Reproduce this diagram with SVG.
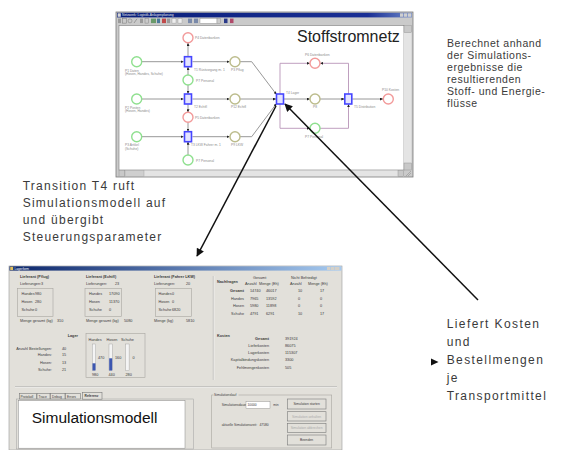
<svg xmlns="http://www.w3.org/2000/svg" width="573" height="450" viewBox="0 0 573 450">
<defs>
<style>
.ann{font-family:"Liberation Sans",Arial,sans-serif;fill:#3a3a3a}
.t{font-family:"Liberation Sans",Arial,sans-serif;font-size:3.8px;fill:#3a3a3a}
.s{font-size:3.3px}
.b{font-weight:bold}
.r{text-anchor:end}
.lbl{font-family:"Liberation Sans",Arial,sans-serif;font-size:3.3px;fill:#8a8a8a}
.pl{fill:#fff;stroke-width:1.4}
.pg{stroke:#8fe08f}
.pr{stroke:#f29a9a}
.po{stroke:#bcbc8c}
.tr{fill:#e4e4ff;stroke:#4646ff;stroke-width:1.6}
.arc{fill:none;stroke:#8c8c8c;stroke-width:0.9}
.pur{fill:none;stroke:#b894b8;stroke-width:0.9}
.big{fill:none;stroke:#111;stroke-width:1.5}
.box{fill:none;stroke:#a8a6a0;stroke-width:0.6}
.btn{fill:#e2e0da;stroke:#7a7a7a;stroke-width:0.6}
.ico{fill:#9a9a9a}
</style>
<marker id="ah" viewBox="0 0 10 10" refX="9" refY="5" markerWidth="11" markerHeight="8" markerUnits="userSpaceOnUse" orient="auto"><path d="M0,0 L10,5 L0,10 z" fill="#111"/></marker>
<marker id="sa" viewBox="0 0 10 10" refX="10" refY="5" markerWidth="3" markerHeight="3" markerUnits="userSpaceOnUse" orient="auto"><path d="M0,0 L10,5 L0,10 z" fill="#222"/></marker>
<linearGradient id="tb" x1="0" y1="0" x2="1" y2="0"><stop offset="0" stop-color="#0a1f7a"/><stop offset="0.85" stop-color="#1a2f95"/><stop offset="1" stop-color="#6c86c8"/></linearGradient>
<linearGradient id="tb2" x1="0" y1="0" x2="1" y2="0"><stop offset="0" stop-color="#0a246a"/><stop offset="1" stop-color="#a6caf0"/></linearGradient>
</defs>
<rect width="573" height="450" fill="#fff"/>

<!-- Top screenshot: Stoffstromnetz -->
<g id="top-window">
<rect x="116" y="12" width="297" height="165" fill="#cacaca" stroke="#7a7a7a" stroke-width="0.8"/>
<rect x="117" y="12.8" width="295" height="4.6" fill="url(#tb)"/>
<rect x="117.6" y="13.3" width="3.2" height="3.5" fill="#d8d8d8"/>
<text x="122" y="16.3" font-family="Liberation Sans, Arial, sans-serif" font-size="3.3" fill="#e8e8e8">Netzwerk: Logistik-Anlagenplanung</text>
<rect x="400" y="13.3" width="3.4" height="3.5" fill="#cfcfcf"/>
<rect x="404" y="13.3" width="3.4" height="3.5" fill="#cfcfcf"/>
<rect x="408" y="13.3" width="3.4" height="3.5" fill="#cfcfcf"/>
<g id="toolbar">
<rect x="118" y="18.6" width="3" height="4.5" class="ico"/>
<rect x="122.5" y="18.6" width="4" height="4.5" fill="none" stroke="#777" stroke-width="0.5"/>
<circle cx="130" cy="20.9" r="2" fill="none" stroke="#777" stroke-width="0.5"/>
<path d="M134,23 L137,18.8" stroke="#777" stroke-width="0.6"/>
<rect x="140" y="18.6" width="3" height="4.5" class="ico"/>
<rect x="145" y="18.6" width="3.5" height="4.5" fill="none" stroke="#888" stroke-width="0.5"/>
<rect x="151" y="18.6" width="5" height="4.5" fill="#6a9a6a"/>
<rect x="157" y="18.6" width="3" height="4.5" fill="#4a7a9a"/>
<rect x="162" y="18.6" width="4" height="4.5" fill="#c04a4a"/>
<rect x="167" y="18.6" width="3" height="4.5" class="ico"/>
<rect x="172" y="18.6" width="4" height="4.5" fill="#eee" stroke="#999" stroke-width="0.4"/>
<rect x="178" y="18.6" width="4" height="4.5" fill="#eee" stroke="#999" stroke-width="0.4"/>
<rect x="188" y="18.6" width="4" height="4.5" fill="#7a8aaa"/>
<rect x="194" y="18.6" width="4" height="4.5" fill="#7a8aaa"/>
<rect x="200" y="18.5" width="17" height="4.8" fill="#fff" stroke="#888" stroke-width="0.4"/>
<rect x="217" y="18.5" width="3.5" height="4.8" fill="#ccc" stroke="#888" stroke-width="0.4"/>
<rect x="224" y="18.6" width="3.5" height="4.5" fill="#2a3a8a"/>
<rect x="230" y="18.6" width="3.5" height="4.5" fill="#b04a6a"/>
</g>
<rect x="119" y="25.5" width="285" height="144.5" fill="#fff" stroke="#7a7a7a" stroke-width="0.6"/>
<rect x="404" y="25.5" width="7.5" height="144.5" fill="#e4e4e4"/>
<rect x="404" y="25.5" width="7.5" height="7" fill="#c8c8c8" stroke="#888" stroke-width="0.4"/>
<rect x="404" y="163" width="7.5" height="7" fill="#c8c8c8" stroke="#888" stroke-width="0.4"/>
<rect x="119" y="170.5" width="285" height="5.8" fill="#e4e4e4"/>
<rect x="119" y="170.5" width="5.8" height="5.8" fill="#c8c8c8" stroke="#888" stroke-width="0.4"/>
<rect x="125" y="170.5" width="19" height="5.8" fill="#cfcfcf" stroke="#999" stroke-width="0.4"/>
<rect x="398" y="170.5" width="5.8" height="5.8" fill="#c8c8c8" stroke="#888" stroke-width="0.4"/>
<path d="M406,176 L411,171 M408,176 L411,173" stroke="#888" stroke-width="0.5"/>
<text x="297" y="42" font-family="Liberation Sans, Arial, sans-serif" font-size="16" fill="#222">Stoffstromnetz</text>
</g>

<!-- Petri net arcs -->
<g id="arcs">
<path class="arc" d="M142,61.7 H183.5" marker-end="url(#sa)"/>
<path class="arc" d="M192.5,61.7 H229.5" marker-end="url(#sa)"/>
<path class="arc" d="M142,99 H183.5" marker-end="url(#sa)"/>
<path class="arc" d="M192.5,99 H229.5" marker-end="url(#sa)"/>
<path class="arc" d="M142,136.7 H183.5" marker-end="url(#sa)"/>
<path class="arc" d="M192.5,136.7 H229.5" marker-end="url(#sa)"/>
<path class="arc" d="M188,56.5 V43" marker-end="url(#sa)"/>
<path class="arc" d="M188,75 V67" marker-end="url(#sa)"/>
<path class="arc" d="M188,85 V93.8" marker-end="url(#sa)"/>
<path class="arc" d="M188,104.2 V112.3" marker-end="url(#sa)"/>
<path class="arc" d="M188,122.3 V131.5" marker-end="url(#sa)"/>
<path class="arc" d="M188,155 V141.8" marker-end="url(#sa)"/>
<path class="arc" d="M240,61.7 H251.7 L276.5,94.5" marker-end="url(#sa)"/>
<path class="arc" d="M240,99 H276" marker-end="url(#sa)"/>
<path class="arc" d="M240,136.7 H251.7 L276.5,103.5" marker-end="url(#sa)"/>
<path class="arc" d="M284,99 H309.8" marker-end="url(#sa)"/>
<path class="arc" d="M320,99 H344.3" marker-end="url(#sa)"/>
<path class="arc" d="M352.3,99 H383" marker-end="url(#sa)"/>
<path class="pur" d="M280,94 V63.3 H309.8" marker-end="url(#sa)"/>
<path class="pur" d="M348.5,94 V63.3 H320.2" marker-end="url(#sa)"/>
<path class="pur" d="M280,104 V128.3 H309.8" marker-end="url(#sa)"/>
<path class="pur" d="M320,128.3 H348.5 V104.2" marker-end="url(#sa)"/>
</g>

<!-- Petri net nodes -->
<g id="p-daten"><circle class="pl pg" cx="136.7" cy="61.7" r="5"/><text class="lbl" x="125" y="71.5">P1 Daten</text><text class="lbl" x="125" y="75">(Hosen, Handes, Schuhe)</text></g>
<g id="p-posten"><circle class="pl pg" cx="136.7" cy="99" r="5"/><text class="lbl" x="125" y="108.5">P2 Posten</text><text class="lbl" x="125" y="112">(Hosen, Handes)</text></g>
<g id="p-artikel"><circle class="pl pg" cx="136.7" cy="136.7" r="5"/><text class="lbl" x="125" y="146">P3 Artikel</text><text class="lbl" x="125" y="149.5">(Schuhe)</text></g>
<g id="p-db1"><circle class="pl pr" cx="188" cy="37.7" r="5"/><text class="lbl" x="195" y="39">P4 Datenbanken</text></g>
<g id="p-pers1"><circle class="pl pg" cx="188" cy="80" r="5"/><text class="lbl" x="196" y="81.5">P7 Personal</text></g>
<g id="p-db2"><circle class="pl pr" cx="188" cy="117.3" r="5"/><text class="lbl" x="195" y="118.6">P5 Datenbanken</text></g>
<g id="p-pers2"><circle class="pl pg" cx="188" cy="160" r="5"/><text class="lbl" x="196" y="161.5">P7 Personal</text></g>
<g id="t1"><rect class="tr" x="184.5" y="56.7" width="7" height="10"/><text class="lbl" x="194" y="70.5">T1 Rüstvorgang m. 1</text></g>
<g id="t2"><rect class="tr" x="184.5" y="94" width="7" height="10"/><text class="lbl" x="194" y="108">T2 Echtfl</text></g>
<g id="t3"><rect class="tr" x="184.5" y="131.7" width="7" height="10"/><text class="lbl" x="191" y="146">T3 LKW Fahrer m. 1</text></g>
<g id="p-pflug"><circle class="pl po" cx="235" cy="61.7" r="5"/><text class="lbl" x="231" y="70.5">P3 Pflug</text></g>
<g id="p-echtfl"><circle class="pl po" cx="235" cy="99" r="5"/><text class="lbl" x="231" y="108">P12 Echtfl</text></g>
<g id="p-lkw"><circle class="pl po" cx="235" cy="136.7" r="5"/><text class="lbl" x="231" y="146">P9 LKW</text></g>
<g id="t4"><rect class="tr" x="276.5" y="94" width="7" height="10"/><text class="lbl" x="286" y="93.5">T4 Lager</text></g>
<g id="p-db3"><circle class="pl pr" cx="315" cy="63.3" r="5"/><text class="lbl" x="305" y="55.5">P6 Datenbanken</text></g>
<g id="p-p8"><circle class="pl po" cx="315" cy="99" r="5"/><text class="lbl" x="313" y="108">P8</text></g>
<g id="p-pers3"><circle class="pl pg" cx="315" cy="128.3" r="5"/><text class="lbl" x="305" y="137.5">P7 Personal</text></g>
<g id="t5"><rect class="tr" x="344.8" y="94" width="7" height="10"/><text class="lbl" x="354" y="108">T5 Distribution</text></g>
<g id="p-kosten"><circle class="pl pr" cx="388.3" cy="99" r="5"/><text class="lbl" x="382" y="90.5">P10 Kosten</text></g>

<!-- Lower screenshot: Simulationsmodell -->
<g id="bottom-window">
<rect x="9" y="266" width="333" height="184" fill="#e2e0da" stroke="#9a9a9a" stroke-width="0.6"/>
<rect x="9.5" y="266.3" width="332" height="4.3" fill="url(#tb2)"/>
<rect x="10.2" y="266.8" width="3" height="3.3" fill="#e0c060"/>
<text x="14.5" y="269.6" font-family="Liberation Sans, Arial, sans-serif" font-size="3.2" fill="#fff">Lagerform</text>
<rect x="327" y="267" width="3.5" height="3" fill="#d4d0c8"/>
<rect x="331" y="267" width="3.5" height="3" fill="#d4d0c8"/>
<rect x="335" y="267" width="4.5" height="3" fill="#d4d0c8"/>

<text class="t b" x="20" y="278">Lieferant (Pflug)</text>
<text class="t" x="20" y="285">Lieferungen:</text><text class="t" x="41" y="285">3</text>
<rect class="box" x="17.5" y="288.5" width="35.5" height="28"/>
<text class="t" x="21.5" y="295">Handes</text><text class="t" x="35" y="295">980</text>
<text class="t" x="21.5" y="303">Hosen</text><text class="t" x="35" y="303">280</text>
<text class="t" x="21.5" y="311">Schuhe</text><text class="t" x="35" y="311">0</text>
<text class="t" x="20" y="322">Menge gesamt (kg)</text><text class="t" x="57" y="322">310</text>

<text class="t b" x="86" y="278">Lieferant (Echtfl)</text>
<text class="t" x="86" y="285">Lieferungen:</text><text class="t" x="115" y="285">23</text>
<rect class="box" x="85" y="288.5" width="36.5" height="28"/>
<text class="t" x="89" y="295">Handes</text><text class="t" x="109" y="295">17090</text>
<text class="t" x="89" y="303">Hosen</text><text class="t" x="109" y="303">11370</text>
<text class="t" x="89" y="311">Schuhe</text><text class="t" x="109" y="311">0</text>
<text class="t" x="86" y="322">Menge gesamt (kg)</text><text class="t" x="124" y="322">5080</text>

<text class="t b" x="154" y="278">Lieferant (Fahrer LKW)</text>
<text class="t" x="154" y="285">Lieferungen:</text><text class="t" x="186" y="285">20</text>
<rect class="box" x="155.5" y="288.5" width="36" height="28"/>
<text class="t" x="158.5" y="295">Handes</text><text class="t" x="172" y="295">0</text>
<text class="t" x="158.5" y="303">Hosen</text><text class="t" x="172" y="303">0</text>
<text class="t" x="158.5" y="311">Schuhe</text><text class="t" x="172" y="311">6820</text>
<text class="t" x="154" y="322">Menge (kg)</text><text class="t" x="186" y="322">5810</text>

<path d="M213.3,276 V380" stroke="#a0a0a0" stroke-width="0.6"/>
<path d="M214,276 V380" stroke="#fff" stroke-width="0.5"/>
<text class="t b" x="217" y="283">Nachfragen</text>
<text class="t" x="253" y="279">Gesamt</text>
<text class="t" x="245" y="284.5">Anzahl</text><text class="t" x="259" y="284.5">Menge (Eh)</text>
<text class="t" x="291" y="279">Nicht Befriedigt</text>
<text class="t" x="290" y="284.5">Anzahl</text><text class="t" x="308" y="284.5">Menge (Eh)</text>
<text class="t b r" x="244" y="291.5">Gesamt</text><text class="t" x="250" y="291.5">14740</text><text class="t" x="266" y="291.5">46017</text><text class="t" x="298" y="291.5">10</text><text class="t" x="320" y="291.5">17</text>
<text class="t r" x="244" y="299.5">Handes</text><text class="t" x="250" y="299.5">7965</text><text class="t" x="266" y="299.5">13592</text><text class="t" x="298" y="299.5">0</text><text class="t" x="320" y="299.5">0</text>
<text class="t r" x="244" y="307">Hosen</text><text class="t" x="250" y="307">5980</text><text class="t" x="266" y="307">11898</text><text class="t" x="298" y="307">0</text><text class="t" x="320" y="307">0</text>
<text class="t r" x="244" y="314.5">Schuhe</text><text class="t" x="250" y="314.5">4791</text><text class="t" x="266" y="314.5">6291</text><text class="t" x="298" y="314.5">10</text><text class="t" x="320" y="314.5">17</text>

<text class="t b" x="217" y="337">Kosten</text>
<text class="t b r" x="269" y="339.5">Gesamt</text><text class="t" x="285" y="339.5">391924</text>
<text class="t r" x="269" y="347">Lieferkosten</text><text class="t" x="285" y="347">86075</text>
<text class="t r" x="269" y="354">Lagerkosten</text><text class="t" x="285" y="354">115307</text>
<text class="t r" x="269" y="361.3">Kapitalbindungskosten</text><text class="t" x="285" y="361.3">3300</text>
<text class="t r" x="269" y="368.6">Fehlmengenkosten</text><text class="t" x="285" y="368.6">505</text>

<text class="t b r" x="78" y="337">Lager</text>
<text class="t r" x="52" y="349.5">Anzahl Bestellungen:</text><text class="t" x="62" y="349.5">40</text>
<text class="t r" x="52" y="356.3">Handes:</text><text class="t" x="62" y="356.3">15</text>
<text class="t r" x="52" y="363.5">Hosen:</text><text class="t" x="62" y="363.5">13</text>
<text class="t r" x="52" y="370.5">Schuhe:</text><text class="t" x="62" y="370.5">21</text>
<rect class="box" x="86" y="333.3" width="59" height="44.4"/>
<text class="t" x="88.5" y="341.3">Handes</text><text class="t" x="106.5" y="341.3">Hosen</text><text class="t" x="121" y="341.3">Schuhe</text>
<rect x="92.3" y="344" width="3.4" height="26.7" fill="#f4f4f4" stroke="#999" stroke-width="0.4"/>
<rect x="92.5" y="363.3" width="3" height="7.2" fill="#3c56b0"/>
<rect x="109" y="344" width="3.4" height="26.7" fill="#f4f4f4" stroke="#999" stroke-width="0.4"/>
<rect x="109.2" y="358.3" width="3" height="12.2" fill="#3c56b0"/>
<rect x="125.7" y="344" width="3.4" height="26.7" fill="#f4f4f4" stroke="#999" stroke-width="0.4"/>
<text class="t" x="98" y="358.5">470</text><text class="t" x="115" y="358.5">160</text><text class="t" x="132.5" y="358.5">0</text>
<text class="t" x="92" y="375.5">980</text><text class="t" x="108.5" y="375.5">440</text><text class="t" x="125.5" y="375.5">280</text>

<path d="M15,386.7 H337" stroke="#a0a0a0" stroke-width="0.6"/>
<path d="M15,387.4 H337" stroke="#fff" stroke-width="0.5"/>

<rect x="16.5" y="399" width="177" height="50" fill="#e2e0da" stroke="#a0a0a0" stroke-width="0.5"/>
<rect class="btn" x="19.5" y="393.5" width="17" height="5.5"/><text class="t s" x="20.5" y="397.6">Protokoll</text>
<rect class="btn" x="37" y="393.5" width="13" height="5.5"/><text class="t s" x="38.5" y="397.6">Trace</text>
<rect class="btn" x="50.5" y="393.5" width="14.5" height="5.5"/><text class="t s" x="52" y="397.6">Debug</text>
<rect class="btn" x="65.5" y="393.5" width="15" height="5.5"/><text class="t s" x="67" y="397.6">Errors</text>
<rect class="btn" x="82.5" y="392.5" width="19.5" height="6.7"/><text class="t s b" x="84.5" y="397.2">Referenz</text>
<rect x="18.3" y="400.7" width="166.7" height="47.5" fill="#fff" stroke="#888" stroke-width="0.5"/>
<text x="31.7" y="423.3" font-family="Liberation Sans, Arial, sans-serif" font-size="15.5" fill="#111">Simulationsmodell</text>

<rect class="box" x="211.7" y="395" width="120" height="53"/>
<rect x="213.5" y="393" width="25" height="4" fill="#e2e0da"/>
<text class="t s" x="214" y="396.3">Simulationslauf</text>
<text class="t s" x="221.7" y="406">Simulationsdauer:</text>
<rect x="246" y="401.7" width="24" height="6.6" fill="#fff" stroke="#888" stroke-width="0.4"/>
<text class="t s" x="247.5" y="406.2">10000</text>
<text class="t s" x="273.3" y="406">min</text>
<text class="t s" x="221.7" y="426.3">aktuelle Simulationszeit:</text><text class="t s" x="259.5" y="426.3">47580</text>
<rect class="btn" x="287.3" y="399" width="38.7" height="10"/><text class="t s" x="306.6" y="405.2" text-anchor="middle">Simulation starten</text>
<rect class="btn" x="287.3" y="411.7" width="38.7" height="9.3" stroke="#b0b0b0"/><text class="t s" x="306.6" y="417.5" text-anchor="middle" style="fill:#aaa">Simulation anhalten</text>
<rect class="btn" x="287.3" y="423.3" width="38.7" height="9.4" stroke="#b0b0b0"/><text class="t s" x="306.6" y="429.1" text-anchor="middle" style="fill:#aaa">Simulation abbrechen</text>
<rect class="btn" x="287.3" y="435" width="38.7" height="10"/><text class="t s" x="306.6" y="441.2" text-anchor="middle">Beenden</text>
</g>

<!-- Annotation connectors -->
<g id="connectors">
<path class="big" d="M276,106 L197,256" marker-end="url(#ah)"/>
<path class="big" d="M478,300 L285,104" marker-end="url(#ah)"/>
<polygon points="431,358.5 438.5,362 431,365.5" fill="#111"/>
</g>

<!-- Annotation texts -->
<g id="note-stoff">
<text class="ann" font-size="10.5" letter-spacing="0.55">
<tspan x="447" y="46.5">Berechnet anhand</tspan>
<tspan x="447" y="58.5">der Simulations-</tspan>
<tspan x="447" y="70.5">ergebnisse die</tspan>
<tspan x="447" y="82.5">resultierenden</tspan>
<tspan x="447" y="94.5">Stoff- und Energie-</tspan>
<tspan x="447" y="106.5">flüsse</tspan>
</text>
</g>
<g id="note-t4">
<text class="ann" font-size="12" letter-spacing="1.25">
<tspan x="22.7" y="190">Transition T4 ruft</tspan>
<tspan x="22.7" y="207.3">Simulationsmodell auf</tspan>
<tspan x="22.7" y="224.3">und übergibt</tspan>
<tspan x="22.7" y="241">Steuerungsparameter</tspan>
</text>
</g>
<g id="note-kosten">
<text class="ann" font-size="12" letter-spacing="1.4">
<tspan x="446.7" y="327.5">Liefert Kosten</tspan>
<tspan x="446.7" y="345.5">und</tspan>
<tspan x="446.7" y="363.5">Bestellmengen</tspan>
<tspan x="446.7" y="381.5">je</tspan>
<tspan x="446.7" y="399.5">Transportmittel</tspan>
</text>
</g>
</svg>
